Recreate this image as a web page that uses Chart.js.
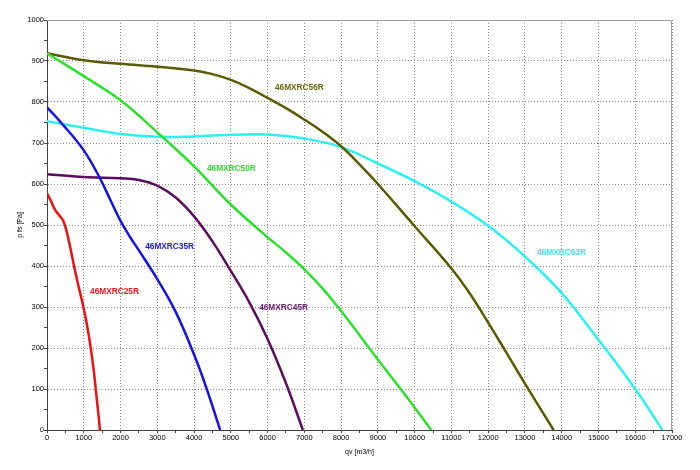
<!DOCTYPE html>
<html lang="en">
<head>
    <meta charset="UTF-8">
    <title>Fan curves 46MXRC</title>
    <script src="https://cdn.jsdelivr.net/npm/chart.js"></script>
    <style>
        body { margin: 0; background: #fff; }
        #wrap { width: 700px; height: 470px; }
    </style>
</head>
<body>
    <div id="wrap">
        <canvas id="fanChart" width="700" height="470"></canvas>
    </div>

    <script>
        // curve data: qv [m3/h] / p fs [Pa]
        const qv25 = [0, 100, 220, 330, 445, 540, 640, 735, 860, 990, 1100, 1190, 1265, 1325, 1385, 1440];
        const pf25 = [577, 560, 537, 524, 510, 482, 442, 400, 350, 300, 250, 200, 150, 100, 50, 0];

        const qv35 = [0, 400, 1000, 1440, 1750, 2000, 2250, 2500, 3000, 3500, 4000, 4345, 4710];
        const pf35 = [787, 748, 682, 614, 556, 510, 472, 438, 368, 288, 184, 100, 0];

        const qv45 = [0, 1000, 2000, 2500, 3000, 3500, 4000, 4500, 5000, 5500, 6000, 6500, 6960];
        const pf45 = [624, 617, 614, 610, 596, 567, 521, 460, 388, 312, 222, 114, 0];

        const qv50 = [0, 1000, 2000, 3000, 4000, 5000, 6000, 6500, 7000, 7500, 8000, 9000, 10000, 10450];
        const pf50 = [919, 863, 804, 726, 643, 550, 470, 433, 392, 345, 290, 172, 55, 0];

        const qv56 = [0, 1000, 2000, 3000, 4000, 4500, 5000, 5500, 6000, 6500, 7000, 7500, 8000, 8500, 9000, 10000, 11000, 11500, 12000, 12500, 13000, 13780];
        const pf56 = [919, 902, 893, 886, 877, 868, 854, 834, 810, 785, 757, 727, 692, 648, 600, 497, 394, 333, 262, 188, 113, 0];

        const qv63 = [0, 1000, 2000, 3000, 4000, 5000, 6000, 7000, 8000, 9000, 10000, 11000, 12000, 13000, 14000, 15000, 16000, 16740];
        const pf63 = [753, 737, 722, 715, 716, 720, 721, 711, 690, 650, 607, 557, 498, 423, 334, 220, 100, 0];

        const names = ['46MXRC25R', '46MXRC35R', '46MXRC45R', '46MXRC50R', '46MXRC56R', '46MXRC63R'];
        const colors = ['#ee1111', '#1414e0', '#5c0c5c', '#2de02d', '#5a5a02', '#2ef0f0'];
        const labelColors = ['#e81818', '#1a1ae0', '#6a1a6a', '#33d633', '#6a6a10', '#3ae8e8'];
        // where each curve name sits, in axis units
        const labelQv = [1170, 2670, 5770, 4350, 6200, 13330];
        const labelPf = [337, 446, 298, 637, 834, 432];

        const qvs = [qv25, qv35, qv45, qv50, qv56, qv63];
        const pfs = [pf25, pf35, pf45, pf50, pf56, pf63];

        const datasets = names.map((n, i) => ({
            label: n,
            data: qvs[i].map((q, j) => ({ x: q, y: pfs[i][j] })),
            borderColor: colors[i],
            borderWidth: 2.5,
            pointRadius: 0,
            showLine: true,
            fill: false,
            tension: 0.4
        }));

        // plot frame + curve names
        const extras = {
            id: 'extras',
            afterDraw(chart) {
                const { ctx, chartArea: a, scales } = chart;
                ctx.save();
                ctx.strokeStyle = '#a0a0a0';
                ctx.lineWidth = 1;
                ctx.beginPath();
                ctx.moveTo(a.left, a.top + 0.5);
                ctx.lineTo(a.right - 0.5, a.top + 0.5);
                ctx.lineTo(a.right - 0.5, a.bottom);
                ctx.stroke();

                ctx.font = 'bold 8.3px "Liberation Sans", Arial, sans-serif';
                ctx.textAlign = 'left';
                ctx.textBaseline = 'middle';
                names.forEach((n, i) => {
                    ctx.fillStyle = labelColors[i];
                    ctx.fillText(n, scales.x.getPixelForValue(labelQv[i]), scales.y.getPixelForValue(labelPf[i]));
                });
                ctx.restore();
            }
        };

        const tickFont = { family: '"Liberation Sans", Arial, sans-serif', size: 7.5 };

        new Chart(document.getElementById('fanChart'), {
            type: 'scatter',
            data: { datasets: datasets },
            options: {
                responsive: false,
                animation: false,
                layout: { padding: { top: 20, right: 28, left: 0, bottom: 0 } },
                plugins: {
                    legend: { display: false },
                    tooltip: { enabled: false }
                },
                scales: {
                    x: {
                        type: 'linear',
                        min: 0,
                        max: 17000,
                        afterFit(scale) { scale.height = 40; },
                        ticks: {
                            stepSize: 500,
                            autoSkip: false,
                            maxRotation: 0,
                            padding: 0,
                            color: '#000',
                            font: tickFont,
                            callback: v => (v % 1000 === 0 ? v : '')
                        },
                        grid: {
                            color: c => (c.tick && c.tick.value % 1000 === 0 ? '#8c8c8c' : 'rgba(0,0,0,0)'),
                            tickColor: '#444',
                            tickLength: 3,
                            lineWidth: 1
                        },
                        border: { display: true, color: '#404040', width: 1, dash: [1, 2] },
                        title: {
                            display: true,
                            text: 'qv [m3/h]',
                            color: '#000',
                            font: { family: '"Liberation Sans", Arial, sans-serif', size: 7 },
                            padding: { top: 0, bottom: 14 }
                        }
                    },
                    y: {
                        min: 0,
                        max: 1000,
                        afterFit(scale) { scale.width = 47; },
                        ticks: {
                            stepSize: 50,
                            autoSkip: false,
                            padding: 0,
                            color: '#000',
                            font: tickFont,
                            callback: v => (v % 100 === 0 ? v : '')
                        },
                        grid: {
                            color: c => (c.tick && c.tick.value % 100 === 0 ? '#8c8c8c' : 'rgba(0,0,0,0)'),
                            tickColor: '#444',
                            tickLength: 3,
                            lineWidth: 1
                        },
                        border: { display: true, color: '#404040', width: 1, dash: [1, 2] },
                        title: {
                            display: true,
                            text: 'p fs [Pa]',
                            color: '#000',
                            font: { family: '"Liberation Sans", Arial, sans-serif', size: 7 },
                            padding: { top: 16, bottom: 0 }
                        }
                    }
                }
            },
            plugins: [extras]
        });
    </script>
</body>
</html>
